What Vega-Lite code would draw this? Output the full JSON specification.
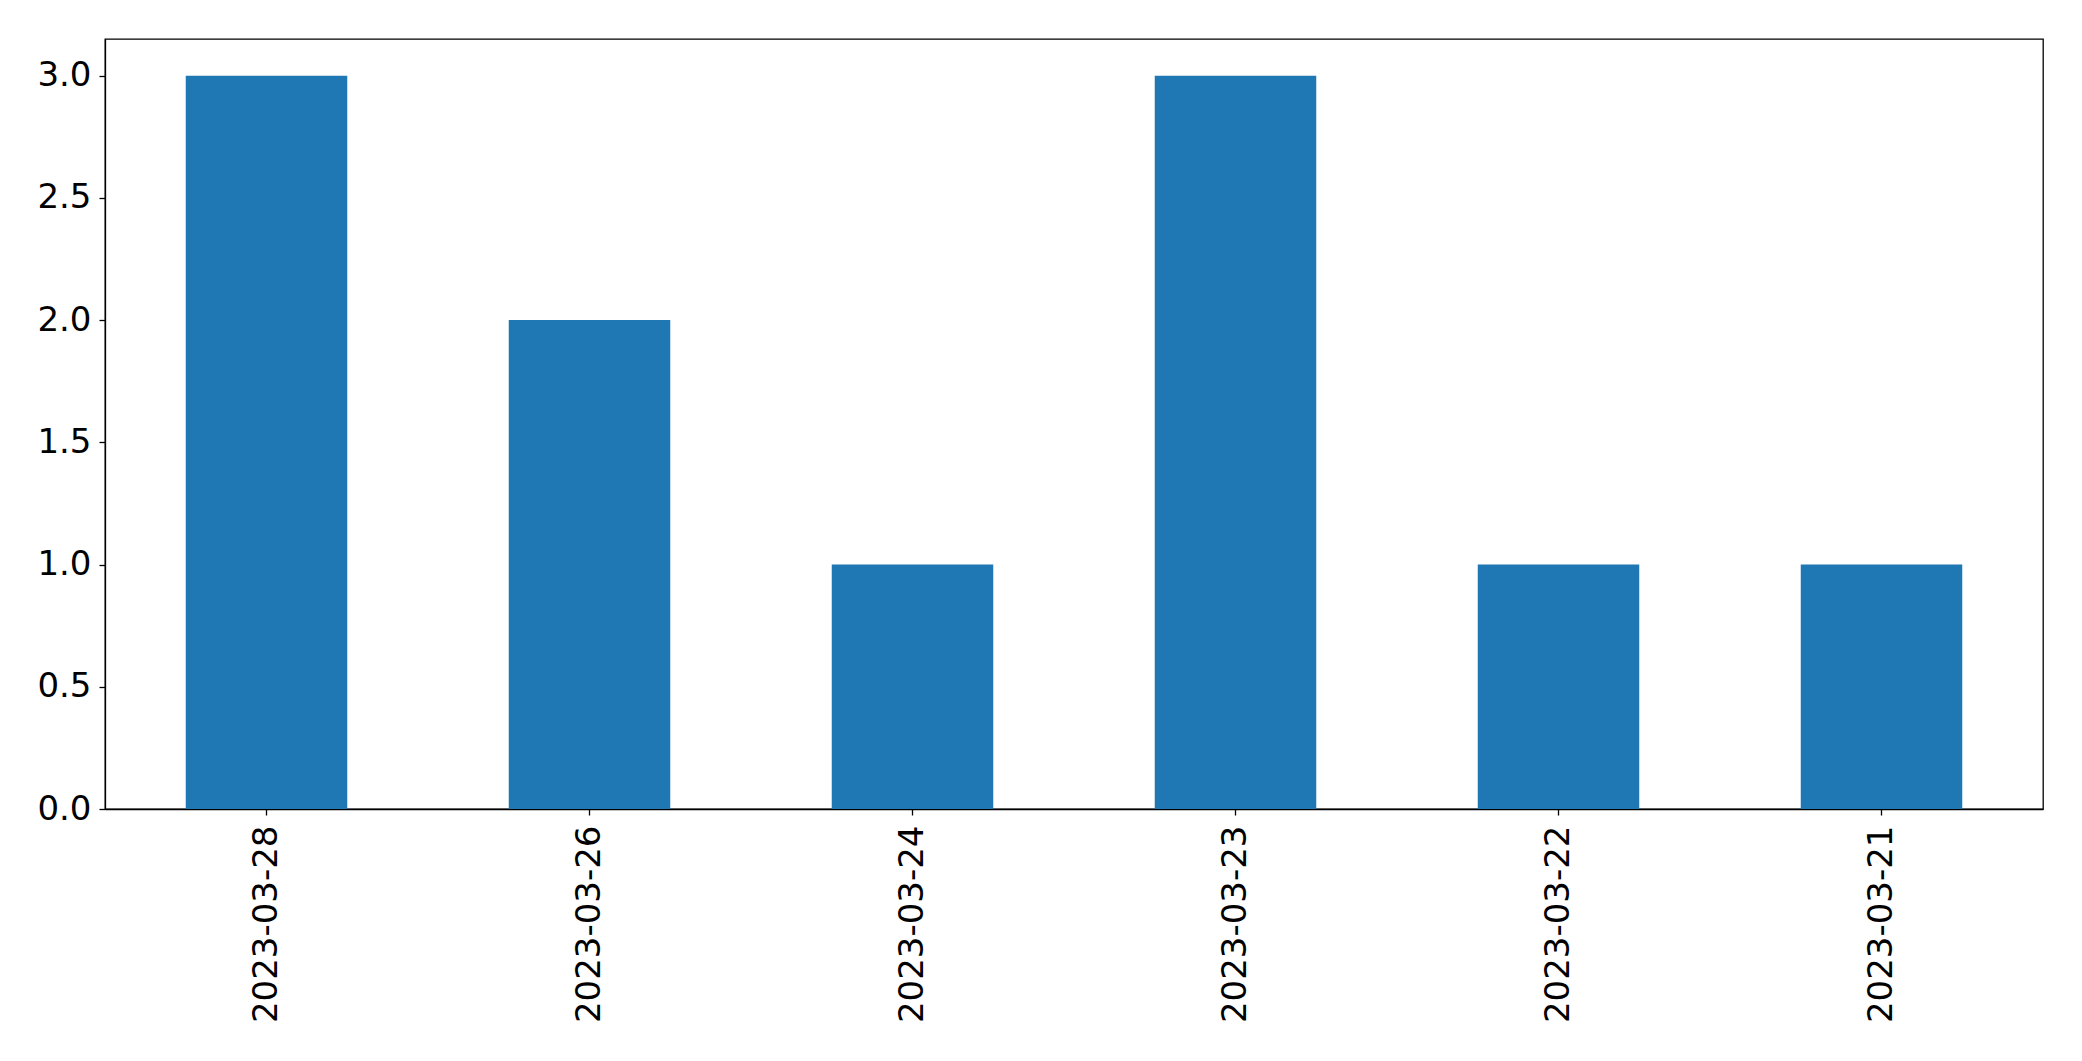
{
  "$schema": "https://vega.github.io/schema/vega-lite/v6.json",
  "autosize": "none",
  "width": 1938,
  "height": 770,
  "padding": {"left": 105, "top": 39, "right": 39, "bottom": 252},
  "background": "white",
  "config": {
    "view": {"stroke": "black", "strokeWidth": 1.3},
    "font": "DejaVu Sans",
    "axis": {
      "labelFont": "DejaVu Sans",
      "labelFontSize": 34,
      "labelLimit": 0,
      "labelColor": "black",
      "domainColor": "black",
      "domainWidth": 1.3,
      "tickColor": "black",
      "tickSize": 6,
      "tickWidth": 1.3,
      "grid": false,
      "title": null
    }
  },
  "data": {
    "values": [
      {"date": "2023-03-28", "count": 3},
      {"date": "2023-03-26", "count": 2},
      {"date": "2023-03-24", "count": 1},
      {"date": "2023-03-23", "count": 3},
      {"date": "2023-03-22", "count": 1},
      {"date": "2023-03-21", "count": 1}
    ]
  },
  "mark": {"type": "bar", "color": "#1f77b4"},
  "encoding": {
    "x": {
      "field": "date",
      "type": "nominal",
      "sort": null,
      "scale": {"paddingInner": 0.5, "paddingOuter": 0.25},
      "axis": {"labelAngle": 270, "labelPadding": 10, "labelAlign": "right", "labelBaseline": "middle", "labelLimit": 0, "title": null}
    },
    "y": {
      "field": "count",
      "type": "quantitative",
      "scale": {"domain": [0, 3.15], "nice": false, "zero": true},
      "axis": {"values": [0, 0.5, 1, 1.5, 2, 2.5, 3], "format": ".1f", "labelPadding": 8, "title": null}
    }
  }
}
